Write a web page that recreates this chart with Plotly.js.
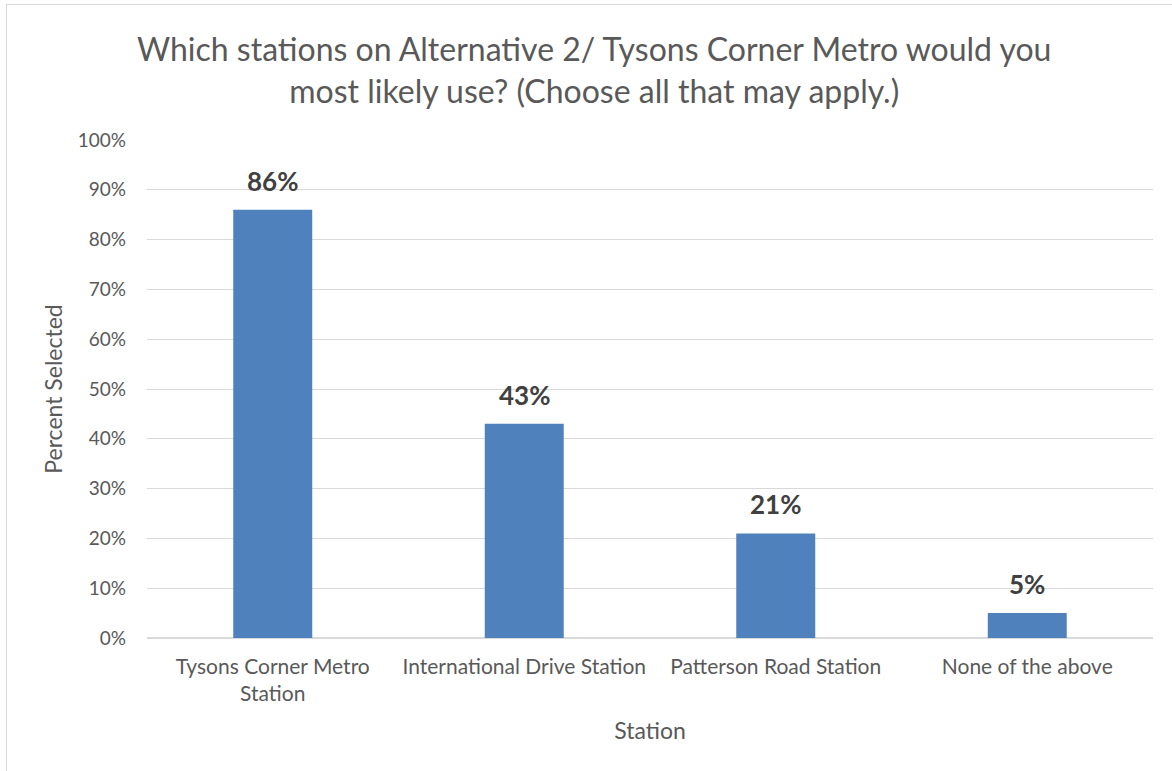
<!DOCTYPE html>
<html><head><meta charset="utf-8">
<script src="https://cdn.plot.ly/plotly-3.0.1.min.js"></script>
<style>
html,body{margin:0;padding:0;background:#fff;}
#wrap{position:relative;width:1172px;height:771px;overflow:hidden;}
#chart{width:1172px;height:771px;}
#frame{position:absolute;left:6px;top:4px;width:1200px;height:800px;border-left:1px solid #d9d9d9;border-top:1px solid #d9d9d9;pointer-events:none;}
</style></head>
<body>
<div id="wrap"><div id="chart"></div><div id="frame"></div></div>
<script>
const categories = ["Tysons Corner Metro<br>Station", "International Drive Station", "Patterson Road Station", "None of the above"];
const values = [0.86, 0.43, 0.21, 0.05];
const valueLabels = ["86%", "43%", "21%", "5%"];
const yTickVals = [0, 0.1, 0.2, 0.3, 0.4, 0.5, 0.6, 0.7, 0.8, 0.9, 1.0];
const yTickText = ["0%", "10%", "20%", "30%", "40%", "50%", "60%", "70%", "80%", "90%", "100%"];

const FONT = "Lato, 'Open Sans', sans-serif";
const trace = {
  type: "bar",
  x: categories,
  y: values,
  marker: {color: "#4F81BD"},
  hoverinfo: "none"
};
const annotations = categories.map((c, i) => ({
  x: c, y: values[i], xref: "x", yref: "y",
  text: "<b>" + valueLabels[i] + "</b>",
  showarrow: false, yanchor: "bottom", yshift: 11,
  font: {family: FONT, size: 26, color: "#404040"}
}));
const layout = {
  width: 1172, height: 771,
  margin: {l: 147, r: 19, t: 140, b: 133},
  paper_bgcolor: "#ffffff", plot_bgcolor: "#ffffff",
  bargap: 0.686,
  showlegend: false,
  font: {family: FONT, color: "#595959"},
  title: {
    text: "Which stations on Alternative 2/ Tysons Corner Metro would you<br>most likely use? (Choose all that may apply.)",
    font: {family: FONT, size: 32, color: "#595959", lineposition: "none"},
    x: 0.507, xref: "container", xanchor: "center",
    y: 0.921, yref: "container", yanchor: "middle"
  },
  xaxis: {
    type: "category",
    tickfont: {family: FONT, size: 21, color: "#595959"},
    ticklabelstandoff: 14,
    showgrid: false, showline: false, ticks: "",
    title: {text: "Station", font: {family: FONT, size: 23, color: "#595959"}, standoff: 18}
  },
  yaxis: {
    range: [0, 1.0],
    tickvals: yTickVals, ticktext: yTickText,
    tickfont: {family: FONT, size: 19, color: "#595959"},
    ticklabelstandoff: 20,
    showgrid: true, gridcolor: "#d9d9d9", gridwidth: 1,
    zeroline: true, zerolinecolor: "#d9d9d9", zerolinewidth: 2,
    ticks: "", ticklen: 0,
    title: {text: "Percent Selected", font: {family: FONT, size: 23, color: "#595959"}, standoff: 8}
  },
  annotations: annotations
};
Plotly.newPlot("chart", [trace], layout, {displayModeBar: false, staticPlot: true});
</script>
</body></html>
